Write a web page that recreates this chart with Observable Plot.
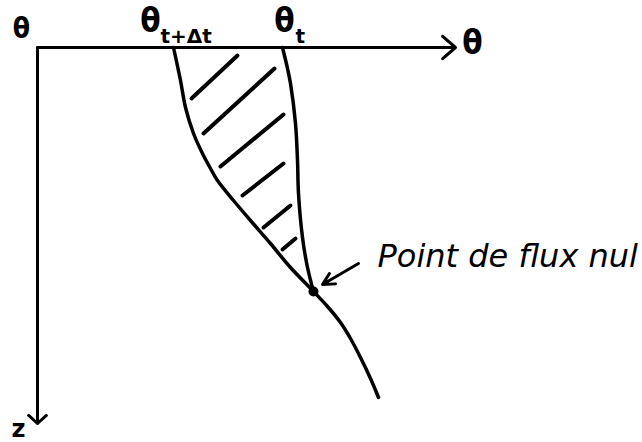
<!DOCTYPE html>
<html>
<head>
<meta charset="utf-8">
<script src="https://cdn.jsdelivr.net/npm/d3@7"></script>
<script src="https://cdn.jsdelivr.net/npm/@observablehq/plot@0.6"></script>
<style>
  html, body { margin: 0; padding: 0; background: #fff; }
</style>
</head>
<body>
<div id="chart"></div>
<script>
// Water-content profiles θ(z) at two times; θ to the right, depth z downwards.
// Profile at t + Δt (continues below the zero-flux point)
const profileNextTheta = [136, 143, 148, 156, 165, 173, 180, 196, 213, 233, 253, 276, 290, 303, 313, 323, 333, 341];
const profileNextZ     = [0,   33,  60,  86,  106, 121, 133, 153, 173, 196, 220, 244, 259, 275, 291, 310, 331, 350];
// Profile at t
const profileTheta = [245, 250, 253, 258, 260, 261, 265, 270, 276];
const profileZ     = [0,   21,  36,  76,  113, 146, 190, 220, 244];
// Zero-flux point where the two profiles meet
const zeroFluxTheta = [276];
const zeroFluxZ = [244];
// Hatching between the two profiles (start and end of each stroke)
const hatchTheta1 = [154, 166, 183, 205, 226, 245];
const hatchZ1     = [51,  86,  119, 148, 180, 202];
const hatchTheta2 = [200, 237, 246, 246, 253, 258];
const hatchZ2     = [8,   21,  67,  116, 158, 191];
// Axis extents
const thetaAxisEnd = 418;
const zAxisEnd = 376;
// Pointer from the label to the zero-flux point
const pointerFrom = {theta: 321, z: 216};
const pointerTo = {theta: 285, z: 237};

const profileNext = profileNextTheta.map((t, i) => ({theta: t, z: profileNextZ[i]}));
const profile = profileTheta.map((t, i) => ({theta: t, z: profileZ[i]}));
const hatches = hatchTheta1.map((t, i) => ({t1: t, z1: hatchZ1[i], t2: hatchTheta2[i], z2: hatchZ2[i]}));
const zeroFlux = zeroFluxTheta.map((t, i) => ({theta: t, z: zeroFluxZ[i]}));

const ink = "#000";
const bold = "DejaVu Sans, sans-serif";
const thetaFont = "DejaVu Sans Condensed, DejaVu Sans, sans-serif";

const label = (x, y, t, opts) =>
  Plot.text([{x, y, t}], {x: "x", y: "y", text: "t", fill: ink, fontWeight: "bold", ...opts});

const chart = Plot.plot({
  width: 642,
  height: 442,
  margin: 0,
  x: {domain: [-37, 605], range: [0, 642], axis: null},
  y: {domain: [-47, 395], range: [0, 442], axis: null},
  marks: [
    // θ axis and z axis
    Plot.arrow([{x1: 0, y1: 0, x2: thetaAxisEnd, y2: 0}], {
      x1: "x1", y1: "y1", x2: "x2", y2: "y2",
      stroke: ink, strokeWidth: 3, headLength: 8.5, headAngle: 82
    }),
    Plot.arrow([{x1: 0, y1: 0, x2: 0, y2: zAxisEnd}], {
      x1: "x1", y1: "y1", x2: "x2", y2: "y2",
      stroke: ink, strokeWidth: 3, headLength: 6, headAngle: 95
    }),
    // Hatching
    Plot.link(hatches, {
      x1: "t1", y1: "z1", x2: "t2", y2: "z2",
      stroke: ink, strokeWidth: 4, strokeLinecap: "round"
    }),
    // Profiles
    Plot.line(profileNext, {x: "theta", y: "z", stroke: ink, strokeWidth: 3.5, curve: "catmull-rom"}),
    Plot.line(profile, {x: "theta", y: "z", stroke: ink, strokeWidth: 3.5, curve: "catmull-rom"}),
    Plot.dot(zeroFlux, {x: "theta", y: "z", r: 5, fill: ink}),
    // Pointer arrow
    Plot.arrow([{x1: pointerFrom.theta, y1: pointerFrom.z, x2: pointerTo.theta, y2: pointerTo.z}], {
      x1: "x1", y1: "y1", x2: "x2", y2: "y2",
      stroke: ink, strokeWidth: 3, headLength: 6.5, headAngle: 55
    }),
    // Labels
    label(-16, -18, "θ", {fontFamily: thetaFont, fontSize: 28}),
    label(113, -26, "θ", {fontFamily: thetaFont, fontSize: 33}),
    label(123, -11, "t+Δt", {textAnchor: "start", fontFamily: bold, fontSize: 20}),
    label(247, -26, "θ", {fontFamily: thetaFont, fontSize: 33}),
    label(258, -11, "t", {textAnchor: "start", fontFamily: bold, fontSize: 20}),
    label(435, -4, "θ", {fontFamily: thetaFont, fontSize: 33}),
    label(-19, 389, "z", {fontFamily: bold, fontSize: 24, lineAnchor: "bottom"}),
    Plot.text([{x: 340, y: 209, t: "Point de flux nul"}], {
      x: "x", y: "y", text: "t", textAnchor: "start",
      fontFamily: "DejaVu Sans, sans-serif", fontStyle: "italic", fontSize: 32, fill: ink
    })
  ]
});

document.getElementById("chart").appendChild(chart);
</script>
</body>
</html>
